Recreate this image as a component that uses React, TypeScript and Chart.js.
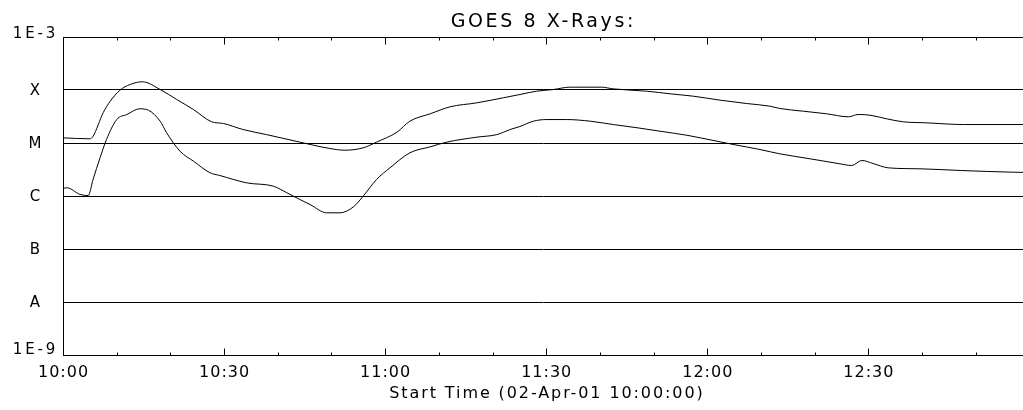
import { useEffect, useRef } from 'react';
import { Chart, registerables } from 'chart.js';

Chart.register(...registerables);

// ---- Data (minutes after 10:00 UT, flux in W/m^2) ----
const longMinutes = [0, 5.0, 5.6, 7.5, 8.8, 10.6, 12.5, 14.8, 18.1, 21.2, 24.3, 27.7, 29.9, 33.5, 37.9, 44.1, 46.0, 49.7, 52.5, 55.9, 58.4, 62.2, 64.6, 68.4, 72.1, 77.1, 82.0, 85.1, 88.2, 91.3, 94.4, 100.3, 102.5, 108.7, 113.1, 117.4, 122.4, 127.3, 131.7, 133.5, 137.9, 142.2, 146.3, 148.1, 150.3, 153.4, 156.5, 160.9, 167.7, 178.8];
const longFlux = [1.25e-5, 1.2e-5, 1.34e-5, 3.76e-5, 6.15e-5, 9.9e-5, 1.27e-4, 1.43e-4, 1.02e-4, 6.6e-5, 4.28e-5, 2.51e-5, 2.33e-5, 1.8e-5, 1.44e-5, 1.04e-5, 9.4e-6, 7.87e-6, 7.31e-6, 8.1e-6, 1.04e-5, 1.6e-5, 2.58e-5, 3.56e-5, 4.82e-5, 5.73e-5, 7.13e-5, 8.22e-5, 9.5e-5, 1.02e-4, 1.13e-4, 1.13e-4, 1.05e-4, 9.5e-5, 8.47e-5, 7.64e-5, 6.43e-5, 5.56e-5, 4.94e-5, 4.48e-5, 3.98e-5, 3.56e-5, 3.12e-5, 3.45e-5, 3.35e-5, 2.86e-5, 2.51e-5, 2.4e-5, 2.23e-5, 2.23e-5];

const shortMinutes = [0, 0.7, 3.2, 4.7, 5.6, 6.9, 8.1, 10.0, 11.9, 14.3, 15.9, 18.1, 19.3, 21.8, 24.3, 27.4, 29.2, 34.2, 39.2, 41.7, 44.1, 46.0, 49.1, 51.6, 54.1, 55.9, 58.4, 60.9, 64.6, 68.4, 71.5, 77.1, 80.8, 83.3, 85.1, 87.6, 90.1, 93.8, 98.2, 102.5, 106.9, 111.2, 116.2, 121.8, 124.8, 129.8, 133.5, 139.1, 144.7, 146.9, 148.8, 150.9, 153.7, 159.6, 167.1, 177.0, 178.8];
const shortFlux = [1.39e-6, 1.43e-6, 1.07e-6, 1.02e-6, 2.05e-6, 5.26e-6, 1.16e-5, 2.77e-5, 3.45e-5, 4.42e-5, 4.16e-5, 2.58e-5, 1.56e-5, 7.0e-6, 4.54e-6, 2.74e-6, 2.44e-6, 1.77e-6, 1.53e-6, 1.15e-6, 8.6e-7, 6.92e-7, 4.82e-7, 4.82e-7, 6.25e-7, 9.9e-7, 2.05e-6, 3.4e-6, 6.53e-6, 8.47e-6, 1.04e-5, 1.29e-5, 1.44e-5, 1.8e-5, 2.05e-5, 2.58e-5, 2.77e-5, 2.77e-5, 2.58e-5, 2.23e-5, 1.94e-5, 1.67e-5, 1.4e-5, 1.08e-5, 9.4e-6, 7.54e-6, 6.25e-6, 5.04e-6, 4.05e-6, 3.76e-6, 4.68e-6, 4.1e-6, 3.4e-6, 3.26e-6, 3.03e-6, 2.81e-6, 2.79e-6];

const yTickValues = [1e-9, 1e-8, 1e-7, 1e-6, 1e-5, 1e-4, 1e-3];
const yTickLabels = ['1E-9', 'A', 'B', 'C', 'M', 'X', '1E-3'];
const xTickMinutes = [0, 10, 20, 30, 40, 50, 60, 70, 80, 90, 100, 110, 120, 130, 140, 150, 160, 170];
const xLabelMinutes = [0, 30, 60, 90, 120, 150];
const xLabelTexts = ['10:00', '10:30', '11:00', '11:30', '12:00', '12:30'];
const X_MIN = 0;
const X_MAX = 178.8;
const titleText = 'GOES 8 X-Rays:';
const xAxisTitle = 'Start Time (02-Apr-01 10:00:00)';

const FONT = '"DejaVu Sans", sans-serif';

const drawText = (ctx: CanvasRenderingContext2D, text: string, x: number, y: number, size: number, spacing: number, baseline: CanvasTextBaseline) => {
  ctx.font = `${size}px ${FONT}`;
  (ctx as any).letterSpacing = `${spacing}px`;
  ctx.textAlign = 'center';
  ctx.textBaseline = baseline;
  ctx.fillText(text, x + spacing / 2, y);
};

const axisPlugin = {
  id: 'idlAxes',
  afterDraw(chart: any) {
    const ctx: CanvasRenderingContext2D = chart.ctx;
    const xs = chart.scales.x;
    const ys = chart.scales.y;
    const { top, bottom } = chart.chartArea;
    ctx.save();
    ctx.strokeStyle = '#000';
    ctx.lineWidth = 1;
    // ticks on bottom and top axes, pointing inward
    xTickMinutes.forEach((m) => {
      const px = Math.round(xs.getPixelForValue(m)) + 0.5;
      const len = m % 30 === 0 ? 7 : 3;
      ctx.beginPath();
      ctx.moveTo(px, Math.round(bottom) + 0.5);
      ctx.lineTo(px, Math.round(bottom) + 0.5 - len);
      ctx.moveTo(px, Math.round(top) + 0.5);
      ctx.lineTo(px, Math.round(top) + 0.5 + len);
      ctx.stroke();
    });
    ctx.fillStyle = '#000';
    // y labels
    yTickValues.forEach((v, i) => {
      const py = ys.getPixelForValue(v);
      const label = yTickLabels[i];
      if (i === 0) {
        drawText(ctx, label, 34, py - 1, 15, 2.8, 'alphabetic');
      } else if (i === yTickValues.length - 1) {
        drawText(ctx, label, 34, py - 3, 15, 2.8, 'middle');
      } else {
        drawText(ctx, label, 35, py + 1.5, 15, 2, 'middle');
      }
    });
    // x labels
    xLabelMinutes.forEach((m, i) => {
      const px = xs.getPixelForValue(m);
      drawText(ctx, xLabelTexts[i], px, 377, 16, 1, 'alphabetic');
    });
    // axis title
    drawText(ctx, xAxisTitle, 546, 398, 16, 1.9, 'alphabetic');
    // main title
    drawText(ctx, titleText, 542, 27, 19, 2.6, 'alphabetic');
    ctx.restore();
  },
};

export default function App() {
  const canvasRef = useRef<HTMLCanvasElement | null>(null);

  useEffect(() => {
    if (!canvasRef.current) return;
    const chart = new Chart(canvasRef.current, {
      type: 'line',
      data: {
        datasets: [
          {
            label: 'Long',
            data: longMinutes.map((m, i) => ({ x: m, y: longFlux[i] })),
            borderColor: '#000',
            borderWidth: 1,
            pointRadius: 0,
            fill: false,
            cubicInterpolationMode: 'monotone',
          },
          {
            label: 'Short',
            data: shortMinutes.map((m, i) => ({ x: m, y: shortFlux[i] })),
            borderColor: '#000',
            borderWidth: 1,
            pointRadius: 0,
            fill: false,
            cubicInterpolationMode: 'monotone',
          },
        ],
      },
      options: {
        animation: false,
        responsive: false,
        maintainAspectRatio: false,
        layout: { padding: { top: 37, left: 0, right: 0, bottom: 0 } },
        plugins: {
          legend: { display: false },
          tooltip: { enabled: false },
          title: { display: false },
        },
        scales: {
          x: {
            type: 'linear',
            min: X_MIN,
            max: X_MAX,
            grid: { display: false },
            border: { display: true, color: '#000', width: 1 },
            ticks: { display: false },
            afterBuildTicks: (s: any) => {
              s.ticks = xTickMinutes.map((v) => ({ value: v }));
            },
            afterFit: (s: any) => {
              s.height = 55;
            },
          },
          y: {
            type: 'logarithmic',
            min: 1e-9,
            max: 1e-3,
            grid: { color: '#000', lineWidth: 1, drawTicks: false },
            border: { display: true, color: '#000', width: 1 },
            ticks: { display: false },
            afterBuildTicks: (s: any) => {
              s.ticks = yTickValues.map((v) => ({ value: v }));
            },
            afterFit: (s: any) => {
              s.width = 63;
            },
          },
        },
      } as any,
      plugins: [axisPlugin],
    });
    return () => chart.destroy();
  }, []);

  return (
    <div style={{ position: 'fixed', left: 0, top: 0, width: 1023, height: 410, background: '#fff', overflow: 'hidden' }}>
      <canvas ref={canvasRef} width={1023} height={410} style={{ display: 'block' }} />
    </div>
  );
}
